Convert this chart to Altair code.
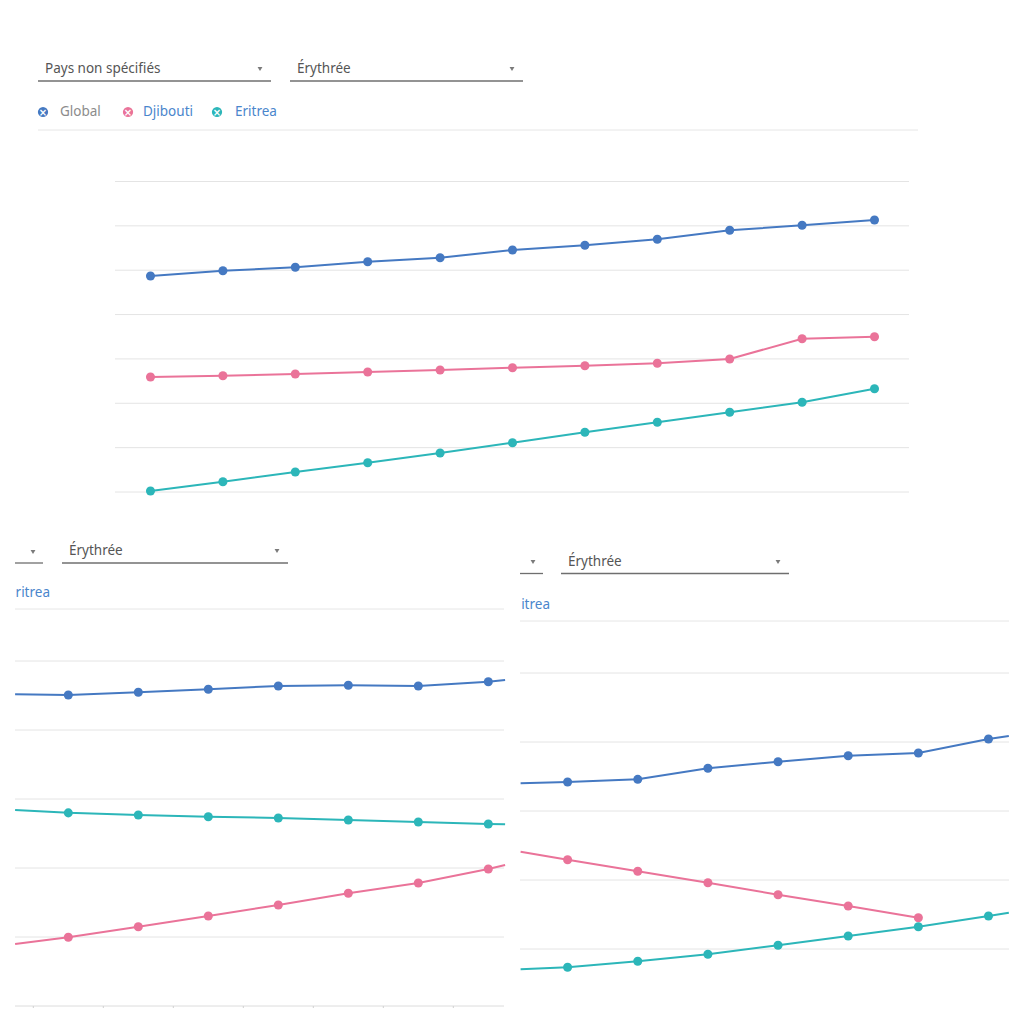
import altair as alt
import pandas as pd

# ---------------- layout constants ----------------
OFF = 8          # page margin
W = 1008         # plot width (whole canvas)
H = 1000         # plot height (whole canvas)
FONT = "Noto Sans"

SERIES = ["Global", "Djibouti", "Eritrea"]
COLORS = ["#4579c2", "#ea7399", "#2cb6b9"]

# ---------------- data: top panel ----------------
top_years = list(range(2010, 2021))
top_global = [48.70, 49.89, 50.66, 51.92, 52.82, 54.56, 55.62, 56.97, 59.00, 60.13, 61.32]
top_djibouti = [25.93, 26.22, 26.60, 27.05, 27.50, 28.02, 28.47, 29.01, 29.98, 34.56, 35.01]
top_eritrea = [0.23, 2.32, 4.51, 6.61, 8.79, 11.11, 13.46, 15.71, 17.97, 20.22, 23.29]
top_grid = [0, 10, 20, 30, 40, 50, 60, 70]

# ---------------- data: bottom-left panel (cropped view) ----------------
bl_years = list(range(2014, 2021))
bl_edge_years = [2013.24, 2020.24]          # where the crop cuts the lines
bl_global = [45.07, 45.46, 45.91, 46.38, 46.48, 46.38, 47.00]
bl_global_edges = [45.17, 47.25]
bl_eritrea = [27.99, 27.68, 27.43, 27.25, 26.96, 26.67, 26.38]
bl_eritrea_edges = [28.41, 26.33]
bl_djibouti = [9.96, 11.49, 13.04, 14.64, 16.33, 17.83, 19.86]
bl_djibouti_edges = [8.99, 20.43]
bl_grid = [10, 20, 30, 40, 50]
bl_base = [0]
bl_ticks = [2013.5, 2014.5, 2015.5, 2016.5, 2017.5, 2018.5, 2019.5]

# ---------------- data: bottom-right panel (cropped view) ----------------
br_years = list(range(2014, 2021))
br_edge_years = [2013.33, 2020.29]
br_global = [34.20, 34.59, 36.19, 37.14, 38.01, 38.41, 40.43]
br_global_edges = [34.01, 40.87]
br_djibouti = [22.94, 21.26, 19.61, 17.87, 16.23, 14.54]
br_djibouti_edges = [24.10]
br_eritrea = [7.35, 8.22, 9.23, 10.54, 11.88, 13.23, 14.78]
br_eritrea_edges = [7.06, 15.26]
br_grid = [10, 20, 30, 40, 50]


# ---------------- helpers ----------------
def xdom(v0, p0, v1, p1):
    k = (p1 - p0) / (v1 - v0)
    d0 = v0 - (p0 - OFF) / k
    return [d0, d0 + W / k]


def ydom(v0, p0, v1, p1):
    k = (p0 - p1) / (v1 - v0)
    d0 = v0 - (OFF + H - p0) / k
    return [d0, d0 + H / k]


def frame(series, years, values, edge_years=None, edge_values=None):
    rows = [{"x": x, "v": v, "series": series, "kind": "pt"} for x, v in zip(years, values)]
    if edge_years and edge_values:
        rows += [{"x": x, "v": v, "series": series, "kind": "edge"}
                 for x, v in zip(edge_years, edge_values)]
    return rows


color_enc = alt.Color("series:N", scale=alt.Scale(domain=SERIES, range=COLORS), legend=None)
ONE = pd.DataFrame({"a": [0]})


def panel(df, xs, ys):
    base = alt.Chart(df)
    line = base.mark_line(strokeWidth=2).encode(
        x=alt.X("x:Q", scale=xs, axis=None),
        y=alt.Y("v:Q", scale=ys, axis=None),
        color=color_enc,
        order="x:Q",
    )
    pts = base.transform_filter(alt.datum.kind == "pt").mark_circle(size=82, opacity=1).encode(
        x=alt.X("x:Q", scale=xs, axis=None),
        y=alt.Y("v:Q", scale=ys, axis=None),
        color=color_enc,
    )
    return [line, pts]


def grid(values, ys, x0, x1, color="#e4e4e4"):
    return alt.Chart(pd.DataFrame({"g": values})).mark_rule(color=color, strokeWidth=1).encode(
        y=alt.Y("g:Q", scale=ys, axis=None),
        x=alt.value(x0 - OFF), x2=alt.value(x1 - OFF),
    )


def hline(x0, x1, y, color="#e6e6e6", width=1):
    return alt.Chart(ONE).mark_rule(color=color, strokeWidth=width).encode(
        x=alt.value(x0 - OFF), x2=alt.value(x1 - OFF), y=alt.value(y - OFF))


def text_at(txt, x, y, color="#555555", size=13.5, align="left"):
    return alt.Chart(ONE).mark_text(text=txt, align=align, baseline="middle", font=FONT,
                                    fontSize=size, color=color).encode(
        x=alt.value(x - OFF), y=alt.value(y - OFF))


def arrow(x, y):
    return alt.Chart(ONE).mark_point(shape="triangle-down", filled=True, size=24,
                                     color="#7a7a7a", opacity=1).encode(
        x=alt.value(x - OFF), y=alt.value(y - OFF))


def icon(x, y, color):
    c = alt.Chart(ONE).mark_circle(size=105, color=color, opacity=1).encode(
        x=alt.value(x - OFF), y=alt.value(y - OFF))
    t = alt.Chart(ONE).mark_text(text="×", color="white", fontSize=10, fontWeight="bold",
                                 font="DejaVu Sans", baseline="middle", align="center").encode(
        x=alt.value(x - OFF), y=alt.value(y - OFF + 0.5))
    return [c, t]


def dropdown(label, x0, x1, y_text, y_line, text_dx=7, arrow_dx=11):
    out = [hline(x0, x1, y_line, color="#6f6f6f", width=1.3)]
    if label:
        out.append(text_at(label, x0 + text_dx, y_text))
    out.append(arrow(x1 - arrow_dx, y_text))
    return out


layers = []

# ---------------- top panel ----------------
top_rows = (frame("Global", top_years, top_global)
            + frame("Djibouti", top_years, top_djibouti)
            + frame("Eritrea", top_years, top_eritrea))
top_xs = alt.Scale(domain=xdom(2010, 150.5, 2020, 874.5), nice=False, zero=False)
top_ys = alt.Scale(domain=ydom(0, 492, 70, 181.5), nice=False, zero=False)
layers.append(grid(top_grid, top_ys, 115, 909))
layers.append(hline(38, 918, 130))
layers += dropdown("Pays non spécifiés", 38, 271, 69, 81)
layers += dropdown("Érythrée", 290, 523, 69, 81)
layers += icon(43, 112, COLORS[0]) + icon(128, 112, COLORS[1]) + icon(217, 112, COLORS[2])
layers.append(text_at("Global", 60, 112, color="#8c8c8c"))
layers.append(text_at("Djibouti", 143, 112, color="#4a86cc"))
layers.append(text_at("Eritrea", 235, 112, color="#4a86cc"))
layers += panel(pd.DataFrame(top_rows), top_xs, top_ys)

# ---------------- bottom-left panel ----------------
bl_rows = (frame("Global", bl_years, bl_global, bl_edge_years, bl_global_edges)
           + frame("Eritrea", bl_years, bl_eritrea, bl_edge_years, bl_eritrea_edges)
           + frame("Djibouti", bl_years, bl_djibouti, bl_edge_years, bl_djibouti_edges))
bl_xs = alt.Scale(domain=xdom(2014, 68.3, 2020, 488.3), nice=False, zero=False)
bl_ys = alt.Scale(domain=ydom(0, 1006, 50, 661), nice=False, zero=False)
layers.append(grid(bl_grid, bl_ys, 15, 504))
layers.append(grid(bl_base, bl_ys, 15, 504, color="#dcdcdc"))
layers.append(alt.Chart(pd.DataFrame({"t": bl_ticks})).mark_rule(color="#d0d0d0", strokeWidth=1).encode(
    x=alt.X("t:Q", scale=bl_xs, axis=None), y=alt.value(1006 - OFF), y2=alt.value(1010 - OFF)))
layers.append(hline(15, 504, 609))
layers += dropdown("", 15, 43, 552, 563, arrow_dx=10)
layers += dropdown("Érythrée", 62, 288, 551, 563)
layers.append(text_at("ritrea", 50, 593, color="#4a86cc", align="right"))
layers += panel(pd.DataFrame(bl_rows), bl_xs, bl_ys)

# ---------------- bottom-right panel ----------------
br_rows = (frame("Global", br_years, br_global, br_edge_years, br_global_edges)
           + frame("Djibouti", br_years[:6], br_djibouti, br_edge_years[:1], br_djibouti_edges)
           + frame("Eritrea", br_years, br_eritrea, br_edge_years, br_eritrea_edges))
br_xs = alt.Scale(domain=xdom(2014, 567.6, 2020, 988.5), nice=False, zero=False)
br_ys = alt.Scale(domain=ydom(10, 949, 50, 673), nice=False, zero=False)
layers.append(grid(br_grid, br_ys, 520, 1009))
layers.append(hline(520, 1009, 621))
layers += dropdown("", 520, 543, 562, 573.5, arrow_dx=10)
layers += dropdown("Érythrée", 561, 789, 562, 573.5)
layers.append(text_at("itrea", 550, 604.5, color="#4a86cc", align="right"))
layers += panel(pd.DataFrame(br_rows), br_xs, br_ys)

chart = (
    alt.layer(*layers)
    .resolve_scale(x="independent", y="independent")
    .properties(width=W, height=H, padding=0, background="white",
                autosize=alt.AutoSizeParams(type="none"))
    .configure_view(strokeWidth=0, stroke="transparent")
)

chart.save("out.html", embed_options={"renderer": "svg", "actions": False})
